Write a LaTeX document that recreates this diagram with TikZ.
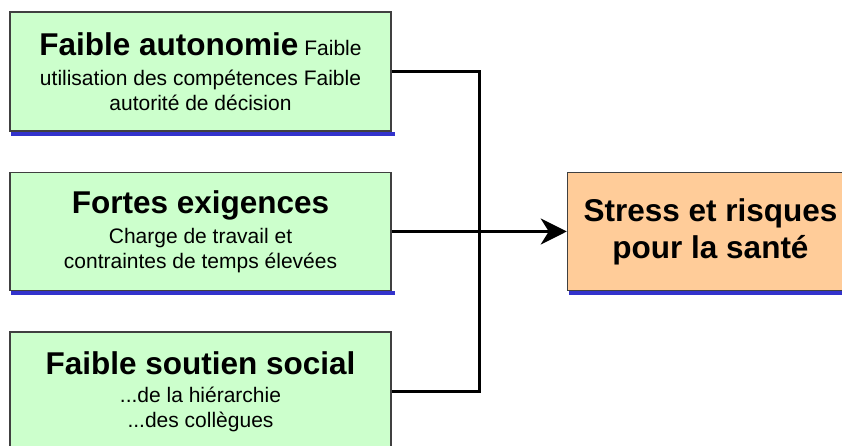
\documentclass[tikz,border=0pt]{standalone}
\usepackage{fontspec}
\setmainfont{Liberation Sans}
\usepackage{xcolor}
\usetikzlibrary{positioning, arrows.meta, calc, backgrounds}
\definecolor{kaGreen}{HTML}{CCFFCC}
\definecolor{kaOrange}{HTML}{FFCC99}
\definecolor{kaEdge}{HTML}{404040}
\definecolor{kaShadow}{HTML}{3333CC}
\newcommand{\titlefont}{\fontsize{31.5}{37}\selectfont\bfseries}
\newcommand{\subfont}{\fontsize{21}{25}\selectfont}
\tikzset{
  factor/.style={
    rectangle, draw=kaEdge, line width=1.5pt,
    fill=kaGreen,
    inner sep=0pt,
    minimum width=381pt, minimum height=119pt,
    align=center, font=\subfont
  },
  outcome/.style={
    rectangle, draw=kaEdge, line width=1.5pt,
    fill=kaOrange,
    inner sep=0pt,
    minimum width=286pt, minimum height=118pt,
    align=center, font=\titlefont
  },
  link/.style={black, line width=3.2pt},
  linkarrow/.style={
    link, -{Stealth[length=26pt, width=26pt, inset=8pt]}
  }
}

\begin{document}
\begin{tikzpicture}[x=1pt, y=1pt]
        \useasboundingbox (0,0) rectangle (842,446);
        \node[factor] (fa) at (200.5, 374.5) {{\titlefont Faible autonomie} Faible\\[5pt]utilisation des compétences Faible\\autorité de décision};
        \node[factor, minimum height=118pt, below=40pt of fa] (fe) {{\titlefont Fortes exigences}\\[5pt]Charge de travail et\\contraintes de temps élevées};
        \node[factor, below=40pt of fe] (fs) {{\titlefont Faible soutien social}\\[3pt]...de la hiérarchie\\...des collègues};
        \node[outcome, right=175pt of fe] (out) {Stress et risques\\pour la santé};
        \begin{scope}[on background layer]
          \foreach \n in {fa, fe, fs, out} {
            \fill[kaShadow] ($(\n.south west) + (2, -3.8)$) rectangle ($(\n.south east) + (3, 0)$);
          }
        \end{scope}
        \draw[link] (fa.east) -- ++(88, 0) coordinate (busTop) |- (fs.east);
        \draw[linkarrow] (fe.east) -- (out.west);
      \end{tikzpicture}
\end{document}
